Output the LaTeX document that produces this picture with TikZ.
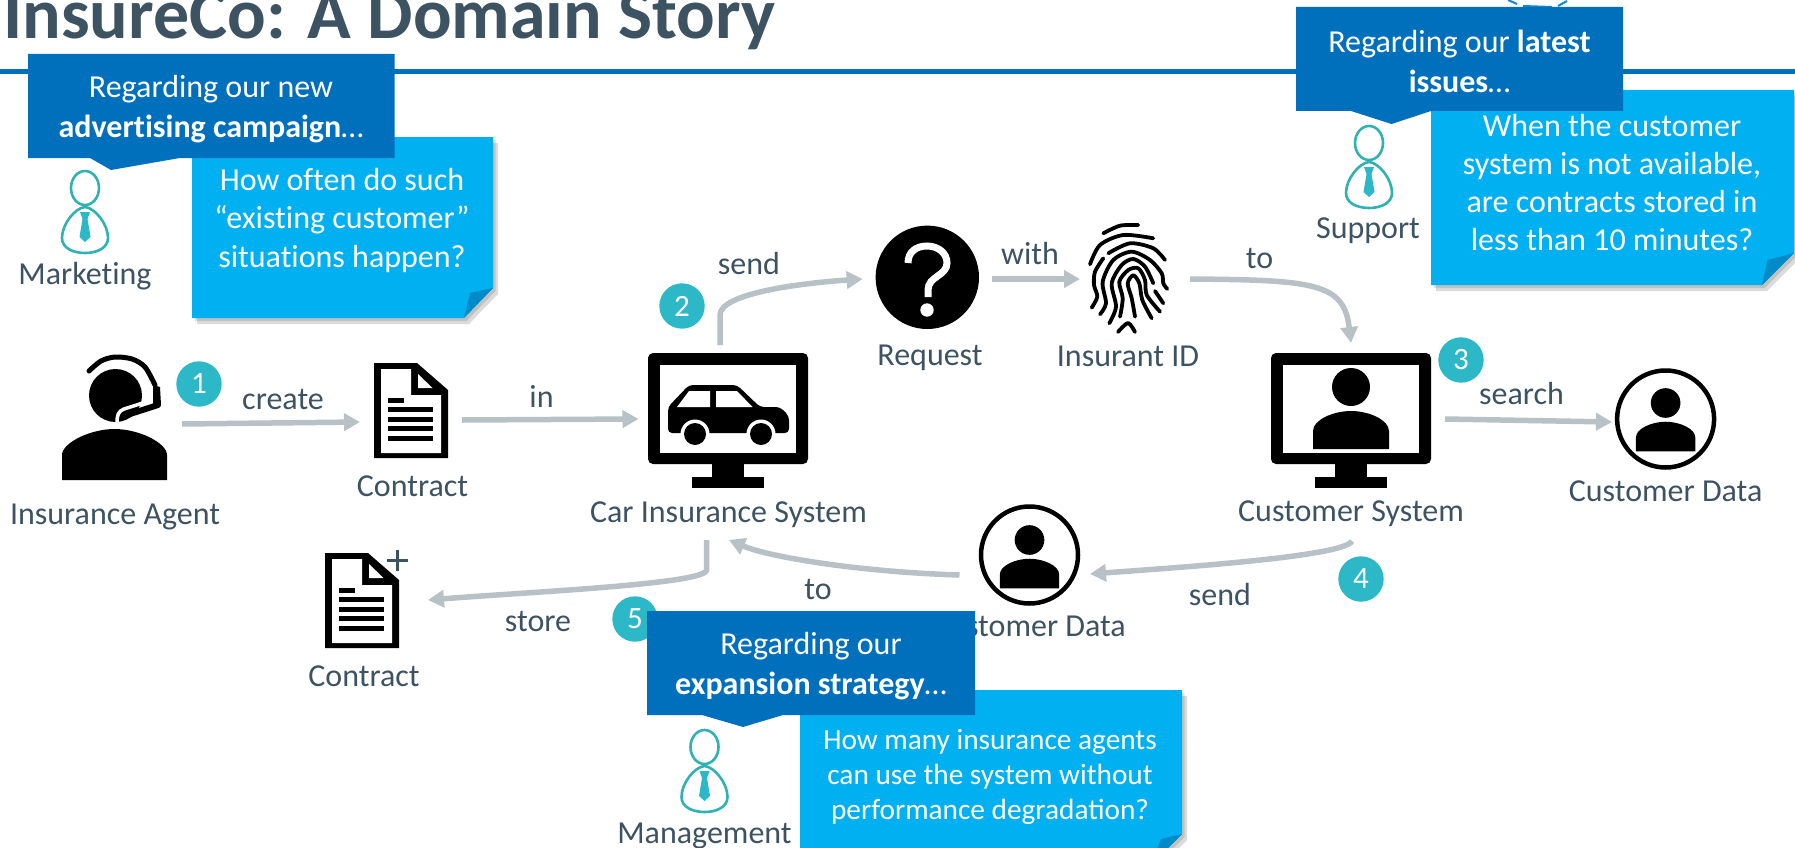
\documentclass[tikz,border=0pt]{standalone}
\usepackage{fontspec}
\setmainfont[Ligatures=CommonOff]{Carlito}
\usetikzlibrary{arrows.meta,shadows}

\definecolor{slatetext}{HTML}{3E5362}
\definecolor{ruleblue}{HTML}{0070BC}
\definecolor{noteblue}{HTML}{00B0F0}
\definecolor{foldblue}{HTML}{008AC8}
\definecolor{flowgray}{HTML}{B7C1C6}
\definecolor{badgeteal}{HTML}{2CB8C6}
\definecolor{actorteal}{HTML}{30B3B0}

\tikzset{
  lbl/.style={anchor=base, inner sep=0pt, text=slatetext, yshift=-1pt, font=\fontsize{32}{36}\selectfont},
  flow/.style={draw=flowgray, line width=5.5pt, -{Triangle[length=16pt,width=17pt]}},
  iconbox/.style={inner sep=0pt, outer sep=0pt},
  badge/.style={circle, fill=badgeteal, text=white, inner sep=0pt, minimum size=45.4pt, font=\fontsize{31}{32}\selectfont},
  calloutbg/.style={fill=ruleblue},
  callout/.style={text=white, inner sep=0pt, align=center, font=\fontsize{32}{40}\selectfont},
  notebody/.style={fill=noteblue, general shadow={shadow xshift=2.5pt, shadow yshift=-3pt, fill=black, opacity=.12}, general shadow={shadow xshift=5pt, shadow yshift=-6pt, fill=black, opacity=.14}},
  notetext/.style={text=white, inner sep=0pt, align=center, font=\fontsize{32}{38.5}\selectfont},
  fingerline/.style={line width=3.8pt, line cap=round, line join=round},
  actor/.pic={
    \draw[actorteal, line width=2.6pt] (0,0) ellipse (14pt and 17pt);
    \draw[actorteal, line width=2.6pt] (0,19) .. controls (-10,20) and (-23,36) .. (-23,50) .. controls (-23,60) and (-12,65) .. (0,65) .. controls (12,65) and (23,60) .. (23,50) .. controls (23,36) and (10,20) .. (0,19) -- cycle;
    \fill[badgeteal] (-5,24) -- (5,24) -- (2.5,31) -- (5.5,49) -- (0,54) -- (-5.5,49) -- (-2.5,31) -- cycle;
  },
  bust/.pic={
    \fill (0,0) circle (19pt);
    \fill (-38,62) -- (-38,44) .. controls (-38,33) and (-18,24) .. (0,24) .. controls (18,24) and (38,33) .. (38,44) -- (38,62) -- cycle;
  },
  screen/.pic={
    \fill[rounded corners=5pt] (-80,0) rectangle (80,111);
    \fill[white] (-68,11.5) rectangle (68,99.5);
    \fill (-16,111) rectangle (16,124);
    \fill (-36,124) rectangle (36,135);
  },
  docsheet/.pic={
    \fill (0,0) -- (43,0) -- (74,27) -- (74,95) -- (0,95) -- cycle;
    \fill[white] (7,6) -- (37,6) -- (37,32) -- (67,32) -- (67,90) -- (7,90) -- cycle;
    \fill[white] (44,11) -- (58.5,25) -- (44,25) -- cycle;
    \fill (14,35) rectangle (30,40);
    \fill (14,44) rectangle (59,49);
    \fill (14,54) rectangle (59,59);
    \fill (14,63) rectangle (59,68);
    \fill (14,73) rectangle (59,78);
  }
}

\begin{document}
\begin{tikzpicture}[x=1pt,y=-1pt]
  \useasboundingbox (0,0) rectangle (1795,848);
  \clip (0,0) rectangle (1795,848);

  \node[anchor=base west, inner sep=0pt, text=slatetext, font=\fontsize{72}{76}\selectfont\bfseries] (title) at (3,39) {InsureCo: A Domain Story};
  \fill[ruleblue] (0,69) rectangle (1795,74);
  \draw[cyan!70!blue, line width=2pt] (1508,0) -- (1517,4);
  \draw[cyan!70!blue, line width=2pt] (1523,6) -- (1552,7);
  \draw[cyan!70!blue, line width=2pt] (1558,6) -- (1567,1);

  \node[iconbox, minimum width=106pt, minimum height=125pt] (agent) at (115,419.5) {};
  \node[iconbox, minimum width=74pt, minimum height=95pt] (contract) at (411,410.5) {};
  \node[iconbox, minimum width=160pt, minimum height=135pt] (carsystem) at (728,420.5) {};
  \node[iconbox, minimum width=104pt, minimum height=104pt] (request) at (927.3,277.3) {};
  \node[iconbox, minimum width=80pt, minimum height=110pt] (insurantid) at (1128.5,278) {};
  \node[iconbox, minimum width=160pt, minimum height=136pt] (custsystem) at (1351,421) {};
  \node[iconbox, minimum width=102pt, minimum height=102pt] (custdata) at (1665.6,419) {};
  \node[iconbox, minimum width=102pt, minimum height=102pt] (custdatatwo) at (1029.5,555) {};
  \node[iconbox, minimum width=74pt, minimum height=95pt] (contracttwo) at (362,600.5) {};

  \fill (62,480) -- (62,455) .. controls (62,443) and (90,429) .. (114.5,429) .. controls (139,429) and (167,443) .. (167,455) -- (167,480) -- cycle;
  \fill (115.5,395.5) circle (26.5pt);
  \draw[line width=5pt, line cap=round] plot[smooth] coordinates {(89,371) (101,361) (115,357) (132,359) (145,367) (155,385)};
  \draw[white, line width=3.5pt] (144,378) .. controls (150,390) and (150,398) .. (146,402) -- (124,409) .. controls (118,411) and (117,416) .. (117,423);
  \fill (153,385) -- (160,387) -- (161,405) -- (153,408) -- cycle;
  \draw[line width=6pt, line cap=round] (158,405) -- (127,415);
  \node[lbl] (agentlbl) at (115,523) {Insurance Agent};

  \pic at (374,363) {docsheet};
  \node[lbl] (contractlbl) at (412.5,495) {Contract};

  \pic at (728,353) {screen};
  \fill[rounded corners=4pt] (668,433) -- (668,407) -- (689,385) -- (737,385) -- (760,407) -- (780,407) -- (789,416) -- (789,433) -- cycle;
  \fill[white] (677,407) -- (689,391) -- (710,391) -- (710,407) -- cycle;
  \fill[white] (716,407) -- (716,391) -- (737,391) -- (752.5,407) -- cycle;
  \fill[white] (695,434) circle (14.5pt);
  \fill[white] (761,434) circle (14.5pt);
  \fill[white] (668,440) rectangle (789,450);
  \fill (695,434) circle (11pt);
  \fill (761,434) circle (11pt);
  \node[lbl] (carsystemlbl) at (728.5,521) {Car Insurance System};

  \fill (927.3,277.3) circle (51.7pt);
  \draw[white, line width=7pt] (908,263) .. controls (908,252) and (916,246) .. (927,246) .. controls (938,246) and (947,253) .. (947,263) .. controls (947,276) and (928,276) .. (928,290) -- (928,297);
  \fill[white] (927,310) circle (6.7pt);
  \node[lbl] (requestlbl) at (930,364) {Request};

  \draw[fingerline] plot[smooth] coordinates {(1103.3,233.3) (1120,225.7) (1138.3,225)};
  \draw[fingerline] plot[smooth] coordinates {(1090,264.3) (1100,245) (1123.3,235) (1153.3,238.3)};
  \draw[fingerline] plot[smooth] coordinates {(1108.3,253.3) (1130,243.3) (1153.3,248.3) (1165,260)};
  \draw[fingerline] plot[smooth] coordinates {(1103.3,258.3) (1095,271.7) (1094,285) (1097.3,296.7) (1091.7,307.7)};
  \draw[fingerline] plot[smooth] coordinates {(1100,314.3) (1106,303.3) (1102.7,281.7) (1113.3,260) (1131.7,251.7) (1150,260) (1161.7,273.3) (1163.3,283.3) (1167.3,289)};
  \draw[fingerline] plot[smooth] coordinates {(1109.3,323.3) (1116,306.7) (1111.7,283.3) (1121.7,265) (1133.3,259) (1145,266.7) (1153.3,283.3)};
  \draw[fingerline] plot[smooth] coordinates {(1120,316.7) (1122.7,298.3) (1119.3,281.7) (1128.3,270) (1138.3,268.3) (1145,280) (1146.7,295) (1160,311.7)};
  \draw[fingerline] plot[smooth] coordinates {(1135,316.7) (1131.7,298.3) (1127.7,283.3) (1133.3,275.3) (1139.3,283.3) (1142.3,300) (1151.7,318.3)};
  \draw[fingerline] (1155,291) -- (1163.3,303.3);
  \draw[fingerline] plot[smooth] coordinates {(1118,332) (1128,323) (1135,332)};
  \node[lbl] (insurantidlbl) at (1128,365) {Insurant ID};

  \pic at (1351,353) {screen};
  \pic at (1351,387) {bust};
  \node[lbl] (custsystemlbl) at (1351,520) {Customer System};

  \draw[line width=4.5pt] (1665.6,419) circle (48.5pt);
  \pic[scale=.78] at (1665.6,403) {bust};
  \node[lbl] (custdatalbl) at (1665.6,500) {Customer Data};

  \draw[line width=4.5pt] (1029.5,555) circle (48.5pt);
  \pic[scale=.78] at (1029.5,540) {bust};
  \node[lbl] (custdatatwolbl) at (1029,635) {Customer Data};

  \pic at (325,553) {docsheet};
  \draw[slatetext, line width=3.5pt] (387,560.5) -- (408,560.5);
  \draw[slatetext, line width=3.5pt] (397.5,550) -- (397.5,571);
  \node[lbl] (contracttwolbl) at (364,685) {Contract};

  \draw[flow] ([shift={(14,4.5)}]agent.east) -- ([shift={(-14,11.5)}]contract.west);
  \node[lbl] (createlbl) at (283,408) {create};
  \draw[flow] ([shift={(14,9.5)}]contract.east) -- ([shift={(-9.5,-1.5)}]carsystem.west);
  \node[lbl] (inlbl) at (541.5,406) {in};
  \draw[flow] ([shift={(-8,-8)}]carsystem.north) -- ++(0,-30) .. controls +(0,-22) and +(-60,4) .. ([shift={(-12.6,1.7)}]request.west);
  \node[lbl] (sendlbl) at (749,273) {send};
  \draw[flow] ([shift={(13,1.7)}]request.east) -- ([shift={(-8.5,1)}]insurantid.west);
  \node[lbl] (withlbl) at (1030,263) {with};
  \draw[flow] ([shift={(21.5,1)}]insurantid.east) .. controls +(125,1) and +(-7,-60) .. ([shift={(0,-10)}]custsystem.north);
  \node[lbl] (tolbl) at (1259.5,267) {to};
  \draw[flow] ([shift={(14,-2)}]custsystem.east) -- ([shift={(-2.6,3)}]custdata.west);
  \node[lbl] (searchlbl) at (1521.5,403) {search};
  \draw[flow] ([shift={(1,52)}]custsystem.south) .. controls +(-8,16) and +(80,-6) .. ([shift={(9.5,19)}]custdatatwo.east);
  \node[lbl] (sendtwolbl) at (1220,604) {send};
  \draw[flow] ([shift={(-19,20)}]custdatatwo.west) .. controls +(-100,-3) and +(40,17) .. ([shift={(1,52)}]carsystem.south);
  \node[lbl] (totwolbl) at (818,598) {to};
  \draw[flow] ([shift={(-21.5,52)}]carsystem.south) -- ++(0,30) .. controls +(0,14) and +(100,-8) .. ([shift={(29,-.5)}]contracttwo.east);
  \node[lbl] (storelbl) at (538,630) {store};

  \node[badge] (stepone) at (199,384) {1};
  \node[badge] (steptwo) at (682,306) {2};
  \node[badge] (stepthree) at (1461,360) {3};
  \node[badge] (stepfour) at (1361,579) {4};
  \node[badge] (stepfive) at (635,619) {5};

  \pic at (85,188) {actor};
  \node[lbl] (marketinglbl) at (85,283) {Marketing};
  \fill[notebody] (192,137) -- (493,137) -- (493,288) -- (464,318) -- (192,318) -- cycle;
  \fill[foldblue] (464,318) -- (470,293) -- (493,288) -- cycle;
  \node[notetext] (marketingnote) at (342,220) {How often do such\\“existing customer”\\situations happen?};
  \fill[calloutbg] (28,54) -- (394.6,54) -- (394.6,158) -- (180,158) -- (111,170) -- (90,158) -- (28,158) -- cycle;
  \node[callout] (marketingcall) at (211,109.5) {Regarding our new\\\textbf{advertising campaign}…};

  \pic at (1369,143) {actor};
  \node[lbl] (supportlbl) at (1368,237) {Support};
  \fill[notebody] (1431,90) -- (1794,90) -- (1794,253) -- (1762,285) -- (1431,285) -- cycle;
  \fill[foldblue] (1762,285) -- (1767.5,260) -- (1794,253) -- cycle;
  \node[notetext, font=\fontsize{32}{38}\selectfont] (supportnote) at (1612,182.5) {When the customer\\system is not available,\\are contracts stored in\\less than 10 minutes?};
  \fill[calloutbg] (1296,7) -- (1623,7) -- (1623,111) -- (1431,111) -- (1391.5,124) -- (1351,111) -- (1296,111) -- cycle;
  \node[callout] (supportcall) at (1459.5,61) {Regarding our \textbf{latest}\\\textbf{issues}…};

  \pic at (704.5,747) {actor};
  \node[lbl] (managementlbl) at (704.5,842) {Management};
  \fill[notebody] (800,690) -- (1182,690) -- (1182,834) -- (1150,866) -- (800,866) -- cycle;
  \fill[foldblue] (1150,866) -- (1161,839) -- (1182,834) -- cycle;
  \node[notetext, font=\fontsize{29.3}{35}\selectfont] (managementnote) at (990,777) {How many insurance agents\\can use the system without\\performance {\addfontfeature{Ligatures=Common}degradation}?};
  \fill[calloutbg] (647,611) -- (975,611) -- (975,715) -- (783,715) -- (743,727) -- (702,715) -- (647,715) -- cycle;
  \node[callout] (managementcall) at (811,666) {Regarding our\\\textbf{expansion strategy}…};
\end{tikzpicture}
\end{document}
